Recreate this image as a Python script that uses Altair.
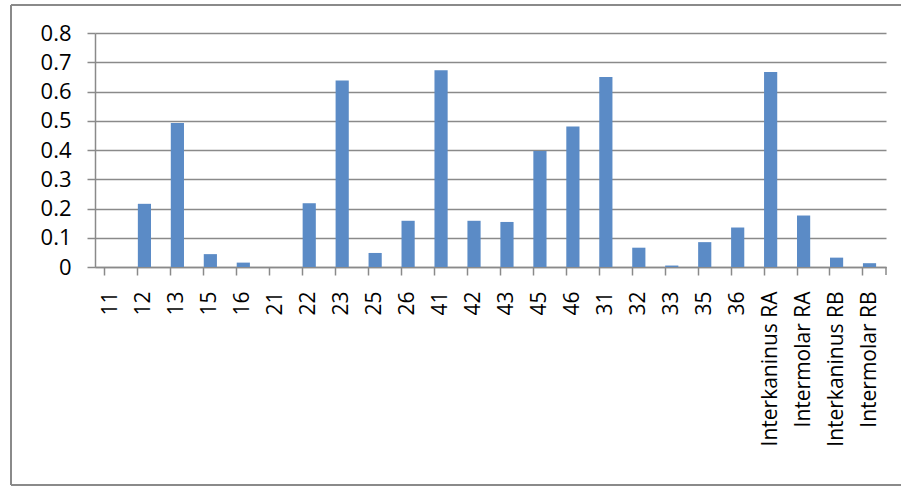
import altair as alt
import pandas as pd

categories = ["11", "12", "13", "15", "16", "21", "22", "23", "25", "26",
              "41", "42", "43", "45", "46", "31", "32", "33", "35", "36",
              "Interkaninus RA", "Intermolar RA", "Interkaninus RB", "Intermolar RB"]
values = [0.0, 0.216, 0.492, 0.044, 0.015, 0.0, 0.218, 0.638, 0.048, 0.158,
          0.673, 0.158, 0.154, 0.397, 0.480, 0.650, 0.066, 0.005, 0.085, 0.135,
          0.667, 0.176, 0.032, 0.013]
y_ticks = [0, 0.1, 0.2, 0.3, 0.4, 0.5, 0.6, 0.7, 0.8]

df = pd.DataFrame({"cat": categories, "val": values})

W, H = 791, 234
GRAY = "#8a8a8a"

bars = alt.Chart(df).mark_bar(color="#5B8BC6").encode(
    x=alt.X("cat:N", sort=categories,
            scale=alt.Scale(paddingInner=0.6, paddingOuter=0.3),
            axis=alt.Axis(title=None, labelAngle=270, labelFont="Open Sans",
                          labelFontSize=21, labelColor="#000000",
                          bandPosition=0, tickSize=8, tickColor=GRAY,
                          tickWidth=1.5, domainColor=GRAY, domainWidth=1.5,
                          labelPadding=16, grid=False)),
    y=alt.Y("val:Q", scale=alt.Scale(domain=[0, 0.8], nice=False),
            axis=alt.Axis(title=None, values=y_ticks, format=".1~f",
                          labelFont="Open Sans", labelFontSize=22,
                          labelColor="#000000", tickSize=8, tickColor=GRAY,
                          tickWidth=1.5, domainColor=GRAY, domainWidth=1.5,
                          gridColor=GRAY, gridWidth=1.5, labelPadding=16)),
)

one = pd.DataFrame({"a": [0]})
end_tick = alt.Chart(one).mark_rule(color=GRAY, strokeWidth=1.5).encode(
    x=alt.value(W), y=alt.value(H), y2=alt.value(H + 8))
frame_top = alt.Chart(one).mark_rule(color=GRAY, strokeWidth=2).encode(
    x=alt.value(-84), x2=alt.value(806), y=alt.value(-28))
frame_bottom = alt.Chart(one).mark_rule(color=GRAY, strokeWidth=2).encode(
    x=alt.value(-84), x2=alt.value(806), y=alt.value(452))
frame_left = alt.Chart(one).mark_rule(color=GRAY, strokeWidth=2).encode(
    x=alt.value(-84), y=alt.value(-28), y2=alt.value(452))

chart = alt.layer(bars, end_tick, frame_top, frame_bottom, frame_left).properties(
    width=W, height=H,
    autosize=alt.AutoSizeParams(type="none"),
    padding={"left": 95, "top": 33, "right": 15, "bottom": 222},
    background="white",
).configure_view(stroke=None)

chart.save("out.html", embed_options={"renderer": "svg", "actions": False})
